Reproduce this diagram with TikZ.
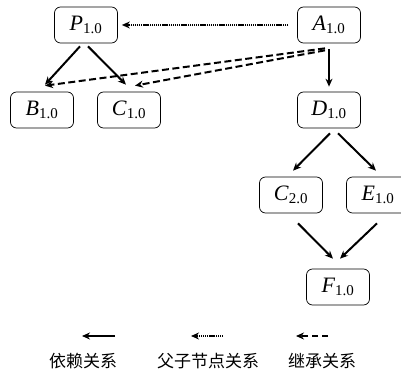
\documentclass[tikz,border=0pt]{standalone}
\usepackage{fontspec}
\setmainfont{Liberation Serif}
\newfontfamily\cjk{Noto Sans CJK SC}
\usetikzlibrary{arrows.meta}
\tikzset{
  box/.style={draw, rounded corners=6pt, minimum width=63pt, minimum height=36pt, inner sep=0pt, line width=0.7pt, font=\fontsize{22}{22}\selectfont},
  dep/.style={line width=2pt, -{Stealth[length=8pt,width=7pt]}},
  par/.style={line width=1.6pt, dash pattern=on 1.2pt off 0.7pt, -{Stealth[length=8pt,width=7pt]}},
  inh/.style={line width=2pt, dash pattern=on 7pt off 3.5pt, -{Stealth[length=8pt,width=7pt]}},
  legtext/.style={font=\cjk\fontsize{17}{17}\selectfont, inner sep=0pt}
}
\newcommand{\lbl}[1]{\textit{#1}\textsubscript{\fontsize{15}{15}\selectfont 1.0}}
\newcommand{\lblb}[2]{\textit{#1}\textsubscript{\fontsize{15}{15}\selectfont #2}}
\begin{document}
\begin{tikzpicture}[x=1pt,y=-1pt]
\useasboundingbox (0,0) rectangle (401,374);
\node[box] (P) at (86,25) {\lbl{P}};
\node[box] (A) at (329,25) {\lbl{A}};
\node[box] (B) at (42,110) {\lbl{B}};
\node[box] (C1) at (129,110) {\lbl{C}};
\node[box] (D) at (329,110) {\lbl{D}};
\node[box] (C2) at (291,195) {\lblb{C}{2.0}};
\node[box] (E) at (378,195) {\lbl{E}};
\node[box] (F) at (338,287) {\lbl{F}};

\draw[par] ([xshift=-9pt]A.west) -- ([xshift=4pt]P.east);
\draw[dep] ([xshift=-6pt,yshift=-3pt]P.south) -- ([xshift=3pt,yshift=7pt]B.north);
\draw[dep] ([xshift=2pt,yshift=-3pt]P.south) -- ([xshift=-3pt,yshift=7pt]C1.north);
\draw[inh] ([xshift=-4pt,yshift=-5pt]A.south) -- ([xshift=3pt,yshift=6pt]B.north);
\draw[inh] ([xshift=-4pt,yshift=-7pt]A.south) -- ([xshift=6pt,yshift=6pt]C1.north);
\draw[dep] ([yshift=-6pt]A.south) -- ([yshift=5pt]D.north);
\draw[dep] ([xshift=1pt,yshift=-5pt]D.south) -- ([xshift=2pt,yshift=6pt]C2.north);
\draw[dep] ([xshift=9pt,yshift=-5pt]D.south) -- ([xshift=-2pt,yshift=6pt]E.north);
\draw[dep] ([xshift=7pt,yshift=-10pt]C2.south) -- ([xshift=-5pt,yshift=10pt]F.north);
\draw[dep] ([xshift=-1pt,yshift=-10pt]E.south) -- ([xshift=2pt,yshift=10pt]F.north);

\coordinate (l1s) at (115,336); \coordinate (l1e) at (82,336);
\coordinate (l2s) at (223,336); \coordinate (l2e) at (191,336);
\coordinate (l3s) at (328,336); \coordinate (l3e) at (296,336);
\draw[dep] (l1s) -- (l1e);
\draw[par] (l2s) -- (l2e);
\draw[inh, dash pattern=on 6pt off 4pt] (l3s) -- (l3e);
\node[legtext] (t1) at (83,361) {依赖关系};
\node[legtext] (t2) at (208,361) {父子节点关系};
\node[legtext] (t3) at (322,361) {继承关系};
\end{tikzpicture}
\end{document}
